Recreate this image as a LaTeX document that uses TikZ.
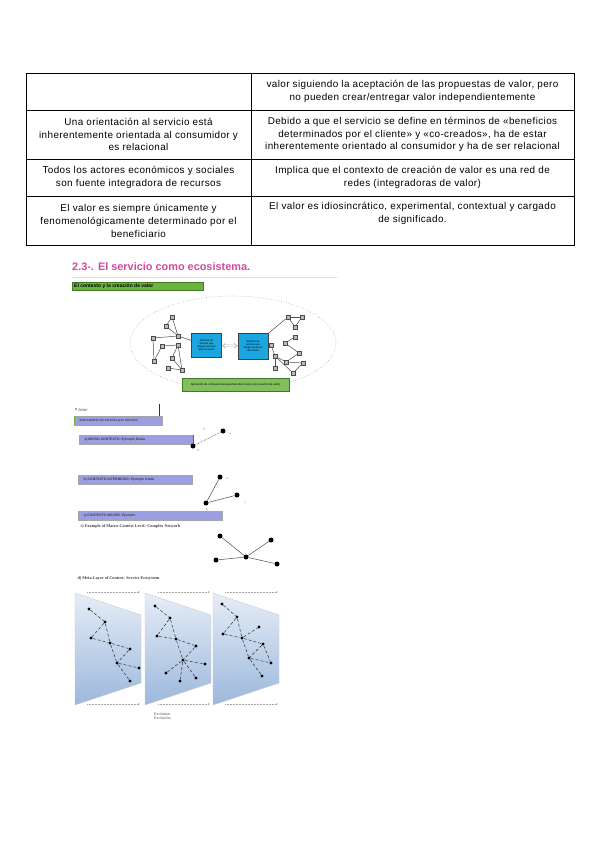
\documentclass[tikz,border=0pt]{standalone}
\usepackage{fontspec}
\setmainfont{Liberation Sans}
\newfontfamily\timesfont{Liberation Serif}
\newfontfamily\tabfont{Liberation Sans}[LetterSpace=4]
\usetikzlibrary{arrows.meta, positioning, shapes.geometric, calc}

\definecolor{headpink}{HTML}{D24A9C}
\definecolor{barGreen}{HTML}{6DB33F}
\definecolor{barGreenDark}{HTML}{3D7A22}
\definecolor{sysBlue}{HTML}{1BA6E0}
\definecolor{lilac}{HTML}{9B9EE0}
\definecolor{panelTop}{HTML}{E6EDF7}
\definecolor{panelBot}{HTML}{9CB8DC}

\begin{document}
\begin{tikzpicture}[x=1pt, y=-1pt,
    cell/.style={align=center, inner sep=0pt, font=\tabfont\fontsize{9.9}{12.6}\selectfont},
    sqnode/.style={draw=gray!60!black, fill=gray!55, minimum size=3.6pt, inner sep=0pt},
    netline/.style={gray!60!black, line width=0.5pt},
    sysbox/.style={draw=gray!50!black, fill=sysBlue, minimum width=30pt, minimum height=24pt, align=center, inner sep=1pt, font=\fontsize{2.6}{3.2}\selectfont},
    lilacbar/.style={draw=gray!70, fill=lilac, minimum height=9pt, inner sep=0pt},
    bartext/.style={anchor=west, font=\fontsize{3.4}{4}\selectfont\bfseries, text=black!75},
    actor/.style={circle, fill=black, inner sep=0pt, minimum size=5pt},
    pdot/.style={circle, fill=black, inner sep=0pt, minimum size=3.4pt},
    plink/.style={densely dashed, gray!30!black, line width=0.45pt},
    flowdot/.style={densely dotted, gray!70, line width=0.5pt, -{Stealth[length=2.2pt]}},
    tinylabel/.style={font=\fontsize{3}{3.5}\selectfont\itshape, text=gray},
    capt/.style={anchor=west, font=\timesfont\fontsize{4.2}{5}\selectfont\bfseries, text=black!75},
    panel/.style={top color=panelTop, bottom color=panelBot, draw=gray!40, line width=0.4pt},
]
  \useasboundingbox[fill=white] (0,0) rectangle (600,848);

  % table
  \draw[line width=0.9pt] (26,73) rectangle (574,245);
  \draw[line width=0.9pt] (251,73) -- (251,245);
  \foreach \yy in {110,159,196} \draw[line width=0.9pt] (26,\yy) -- (574,\yy);

  \node[cell] (c12) at (412.5,91.5) {valor siguiendo la aceptación de las propuestas de valor, pero\\no pueden crear/entregar valor independientemente};
  \node[cell] (c21) at (138.5,134.5) {Una orientación al servicio está\\inherentemente orientada al consumidor y\\es relacional};
  \node[cell] (c22) at (412.5,134.5) {Debido a que el servicio se define en términos de «beneficios\\determinados por el cliente» y «co-creados», ha de estar\\inherentemente orientado al consumidor y ha de ser relacional};
  \node[cell] (c31) at (138.5,177.5) {Todos los actores económicos y sociales\\son fuente integradora de recursos};
  \node[cell] (c32) at (412.5,177.5) {Implica que el contexto de creación de valor es una red de\\redes (integradoras de valor)};
  \node[cell] (c41) at (138.5,221) {El valor es siempre únicamente y\\fenomenológicamente determinado por el\\beneficiario};
  \node[cell, anchor=north] (c42) at (412.5,202) {El valor es idiosincrático, experimental, contextual y cargado\\de significado.};

  % heading
  \node[anchor=west, inner sep=0pt, text=headpink, font=\fontsize{10.9}{12}\selectfont\bfseries] (head) at (72,267) {2.3-. El servicio como ecosistema.};
  \draw[gray!25, line width=0.6pt] (72,277.5) -- (337,277.5);
  \node[draw=barGreenDark, fill=barGreen, anchor=west, minimum width=131pt, minimum height=8pt, inner sep=0pt] (ctxbar) at (72,286) {};
  \node[anchor=west, inner sep=0pt, font=\fontsize{5}{6}\selectfont\bfseries] (ctxtxt) at (74,286) {El contexto y la creación de valor};

  % ecosystem ellipse
  \node[draw=gray!70, dotted, ellipse, line width=0.6pt, minimum width=206pt, minimum height=94pt] (eco) at (233,343) {};
  \node[sysbox] (sysA) at (206.5,345.5) {Sistema de\\servicio que\\integra recursos\\del proveedor};
  \node[sysbox, minimum height=26pt] (sysB) at (253,346) {Sistema de\\servicio que\\integra recursos\\del cliente};
  \draw[gray!70, double=white, double distance=1.6pt, {Implies}-{Implies}] (sysA) -- (sysB);
  \node[draw=barGreenDark, fill=barGreen!85!white, minimum width=107pt, minimum height=13pt, inner sep=0pt, font=\fontsize{2.8}{3.4}\selectfont] (aplic) at (235.5,385) {Aplicación de competencias para beneficio mutuo (co-creación de valor)};

  \foreach \n/\xx/\yy in {1/172/317, 2/166/326, 3/178/336, 4/153/338, 5/162/346, 6/178/345, 7/172/358, 8/154/361, 9/168/368, 10/182/370}
    \node[sqnode] (l\n) at (\xx,\yy) {};
  \foreach \n/\xx/\yy in {1/288/317, 2/302/317, 3/295/327, 4/271/345, 5/285/343, 6/295/337, 7/299/353, 8/275/356, 9/286/362, 10/303/363, 11/275/368, 12/293/373}
    \node[sqnode] (r\n) at (\xx,\yy) {};
  \foreach \a/\b in {l1/l2, l1/l3, l2/l3, l4/l3, l3/sysA, l4/l8, l8/l5, l5/l6, l6/l7, l7/l10, l9/l10, l6/l10}
    \draw[netline] (\a) -- (\b);
  \foreach \a/\b in {sysB/r1, r1/r2, r2/r3, r1/r3, sysB/r4, r4/r8, r8/r9, r5/r6, r5/r7, r7/r9, r9/r10, r8/r12, r12/r10, r11/r8}
    \draw[netline] (\a) -- (\b);

  % legend
  \node[anchor=west, inner sep=0pt, font=\fontsize{4}{4.5}\selectfont\itshape, text=black!70] (actorkey) at (75,410.5) {{\fontsize{6}{6}\selectfont\textbullet}\ Actor};
  \draw[black!80, line width=0.7pt] (159,404) -- (159,416);
  \node[lilacbar, anchor=west, minimum width=88pt] (bar0) at (74,420.5) {};
  \draw[barGreen, line width=0.8pt] (bar0.north west) -- (bar0.south west);
  \node[bartext] (bar0txt) at (76,420.5) {Intercambio de servicio por servicio};

  % a) dyad
  \node[lilacbar, anchor=west, minimum width=114pt] (bar1) at (79,439.5) {};
  \draw[barGreenDark, line width=1pt] (bar1.north east) -- (bar1.south east);
  \node[bartext] (bar1txt) at (81,439.5) {a) MICRO CONTEXTO: Ejemplo Díada};
  \node[actor] (d1) at (193,446) {};
  \node[actor] (d2) at (223,431) {};
  \draw[densely dotted, gray!60!black, line width=0.6pt] (d1) -- (d2);
  \node[tinylabel] (ls) at (204,429) {S};
  \node[tinylabel] (la) at (230,434) {a};
  \node[tinylabel] (lb) at (198,450) {b};

  % b) triad
  \node[lilacbar, anchor=west, minimum width=114pt] (bar2) at (78,480) {};
  \node[bartext] (bar2txt) at (80,480) {b) CONTEXTO INTERMEDIO: Ejemplo tríada};
  \node[actor] (t1) at (220,477) {};
  \node[actor] (t2) at (237,495) {};
  \node[actor] (t3) at (206,503) {};
  \draw[netline] (t3) -- (t1);
  \draw[netline] (t3) -- (t2);
  \node[tinylabel] (ta) at (227,479) {a};
  \node[tinylabel] (tc) at (245,503) {c};
  \node[tinylabel] (tb) at (207,509) {b};

  % c) complex network
  \node[lilacbar, anchor=west, minimum width=144pt] (bar3) at (78,516) {};
  \node[bartext] (bar3txt) at (80,516) {c) CONTEXTO MACRO: Ejemplo};
  \node[capt] (captc) at (77,526) {c) Example of Macro-Context Level: Complex Network};
  \node[actor] (m0) at (246,557) {};
  \foreach \n/\xx/\yy in {1/220/536, 2/271/540, 3/216/560, 4/277/564}
    \node[actor] (m\n) at (\xx,\yy) {};
  \foreach \n in {1,...,4} \draw[netline] (m0) -- (m\n);

  % d) service ecosystem
  \node[capt] (captd) at (74,578) {d) Meta-Layer of Context: Service Ecosystem};
  \foreach \dx in {0,70,138}
    \shade[panel] (75+\dx,593) -- (141+\dx,615) -- (141+\dx,683) -- (75+\dx,705) -- cycle;
  \foreach \i/\xa/\xb in {1/87/140, 2/158/210, 3/225/278} {
    \coordinate (up\i s) at (\xa,592);  \coordinate (up\i e) at (\xb,592);
    \coordinate (dn\i s) at (\xa,704);  \coordinate (dn\i e) at (\xb,704);
    \draw[flowdot] (up\i s) -- (up\i e);
    \draw[flowdot] (dn\i s) -- (dn\i e);
  }

  % panel 1
  \foreach \n/\xx/\yy in {A/89/609, B/105/622, C/91/638, D/110/643, E/130/649, F/117/663, G/139/668, H/130/681}
    \node[pdot] (p1\n) at (\xx,\yy) {};
  \foreach \a/\b in {A/B, B/C, C/D, B/D, D/F, D/E, E/F, F/G, F/H}
    \draw[plink] (p1\a) -- (p1\b);
  % panel 2
  \foreach \n/\xx/\yy in {A/155/606, B/170/618, C/157/636, D/176/639, E/196/646, F/183/660, G/205/664, H/166/673, I/180/681, J/196/678}
    \node[pdot] (p2\n) at (\xx,\yy) {};
  \foreach \a/\b in {A/B, B/C, C/D, B/D, D/F, D/E, E/F, F/G, F/H, F/I, F/J}
    \draw[plink] (p2\a) -- (p2\b);
  % panel 3
  \foreach \n/\xx/\yy in {A/222/604, B/237/617, C/223/634, D/242/638, K/259/627, E/263/644, F/249/658, G/271/663, H/262/676}
    \node[pdot] (p3\n) at (\xx,\yy) {};
  \foreach \a/\b in {A/B, B/C, C/D, B/D, D/K, D/E, D/F, E/F, E/G, F/G, F/H}
    \draw[plink] (p3\a) -- (p3\b);

  \node[anchor=west, inner sep=0pt, font=\timesfont\fontsize{4}{4.6}\selectfont, text=black!70, align=left] (evol) at (154,716) {Evolution\\Evolución};
\end{tikzpicture}
\end{document}
